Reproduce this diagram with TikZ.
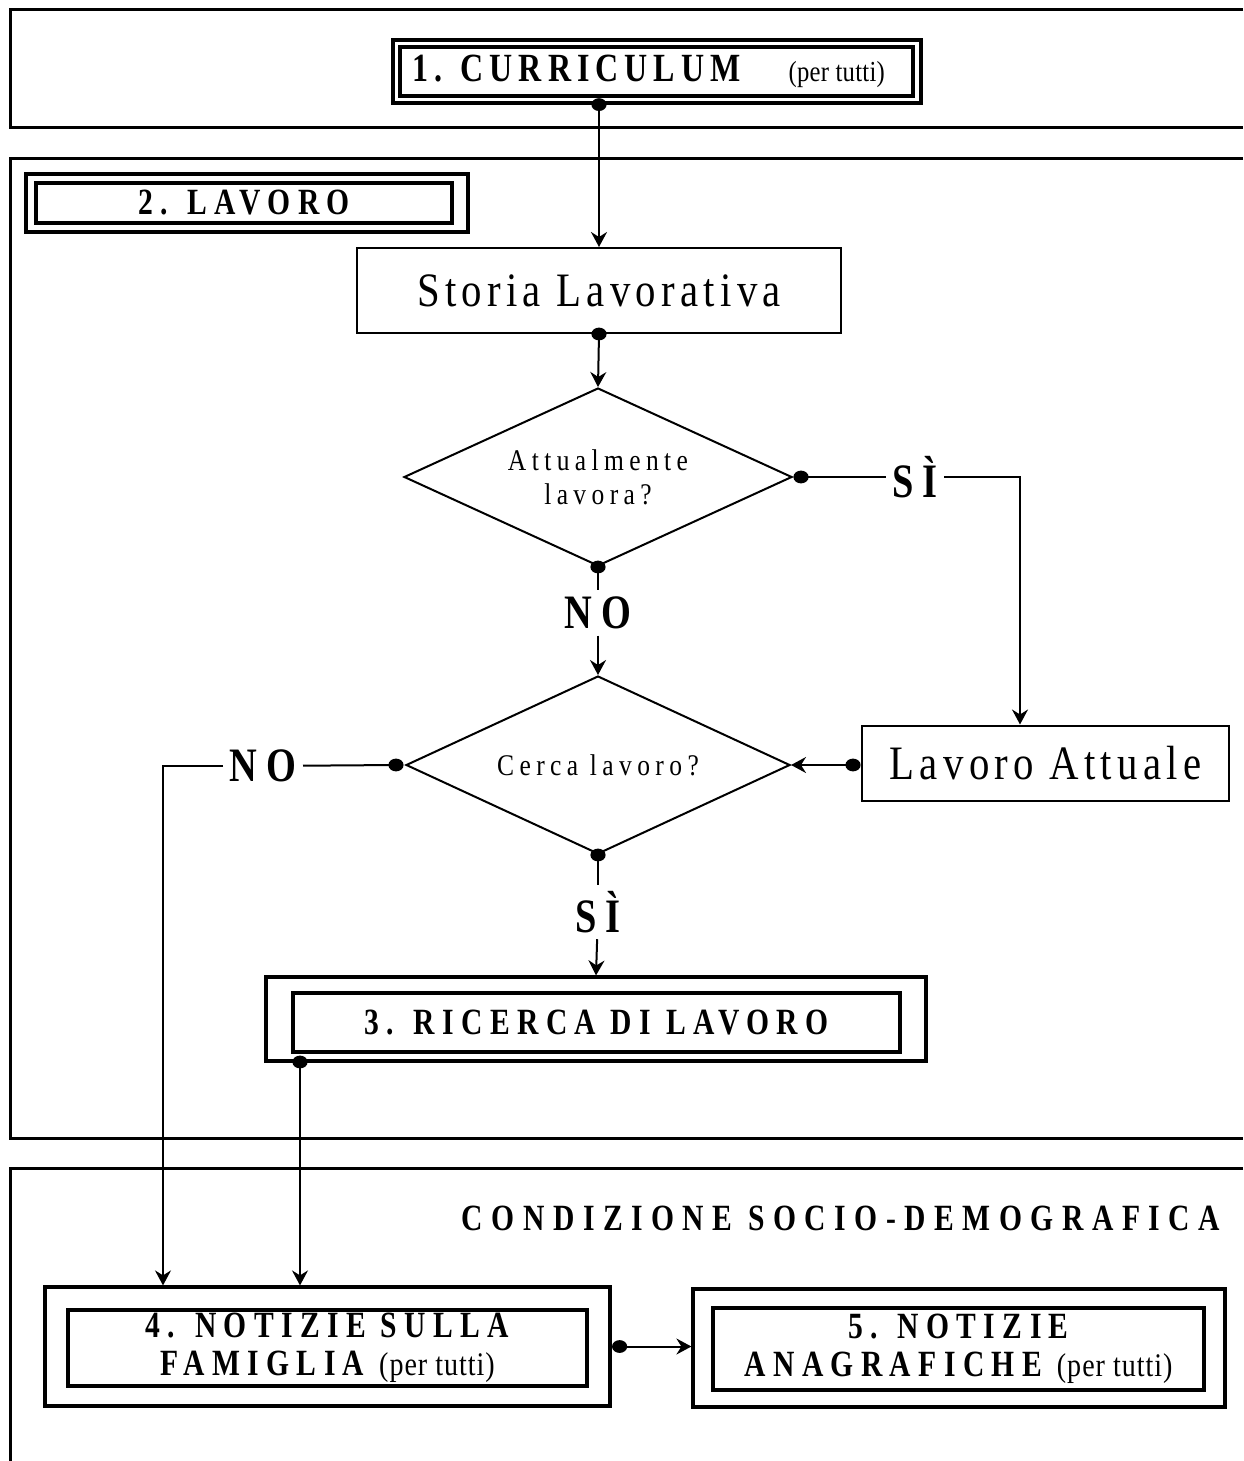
\documentclass[tikz,border=0pt]{standalone}
\usepackage{fontspec}
\newfontfamily\tf[FakeStretch=0.85]{Liberation Serif}
\newfontfamily\tfb[FakeStretch=0.8]{Liberation Serif}
\usetikzlibrary{arrows.meta,shapes.geometric}
\newcommand\hdf{\tfb\bfseries\fontsize{18.5}{19}\selectfont\addfontfeature{LetterSpace=20}}
\newcommand\curf{\tfb\bfseries\fontsize{20}{22}\selectfont\addfontfeature{LetterSpace=15}}
\newcommand\ptsmall{\tf\mdseries\fontsize{14.5}{15}\selectfont\addfontfeature{LetterSpace=1}}
\newcommand\ptbig{\tf\mdseries\fontsize{16.5}{17}\selectfont\addfontfeature{LetterSpace=3}}
\newcommand\bigf{\tf\fontsize{24}{28}\selectfont\addfontfeature{LetterSpace=11}}
\newcommand\diaf{\tf\fontsize{15}{17}\selectfont\addfontfeature{LetterSpace=18}}
\newcommand\lblf{\tfb\bfseries\fontsize{24}{26}\selectfont\addfontfeature{LetterSpace=20}}
\newcommand\dotat[1]{\fill (#1) ellipse [x radius=3.8pt, y radius=3.2pt];}
\tikzset{
  frameline/.style={line width=1.5pt},
  dbo/.style={draw, line width=1.6pt, inner sep=0pt},
  dbi/.style={draw, line width=1.6pt, inner sep=0pt, align=center},
  plainbox/.style={draw, line width=1pt, inner sep=0pt, font=\bigf},
  dia/.style={draw, diamond, shape aspect=2.18, line width=1pt, inner sep=0pt, align=center, font=\diaf},
  lbl/.style={inner sep=3pt, font=\lblf},
  conn/.style={line width=1pt},
  arr/.style={conn, -{Stealth[length=7.5pt,width=8pt,inset=2.5pt]}}
}
\begin{document}
\begin{tikzpicture}[x=0.5pt,y=-0.5pt]
\useasboundingbox (0,0) rectangle (1243,1461);
% section frames
\draw[frameline] (1243,10) -| (10,128) -- (1243,128);
\draw[frameline] (1243,158) -| (10,1138) -- (1243,1138);
\draw[frameline] (1243,1168) -| (10,1461);

% 1. Curriculum
\node[dbo, minimum width=264pt, minimum height=31.5pt] (cur) at (657,71.5) {};
\node[dbi, minimum width=256.5pt, minimum height=24.5pt, font=\curf] (curi) at (656.5,71.5) {1. CURRICULUM\hspace{24pt}{\ptsmall(per tutti)}\hspace{8pt}};

% 2. Lavoro
\node[dbo, minimum width=221pt, minimum height=29pt] (lav) at (247,203) {};
\node[dbi, minimum width=208pt, minimum height=20pt, font=\hdf] (lavi) at (244,203) {2. LAVORO};

% Storia lavorativa
\node[plainbox, minimum width=242pt, minimum height=42.5pt] (storia) at (599,290.5) {Storia Lavorativa};

% diamonds
\node[dia, minimum width=194pt, minimum height=89pt] (dia1) at (598,477) {Attualmente\\lavora?};
\node[dia, minimum width=192pt, minimum height=89pt] (dia2) at (598,765) {Cerca lavoro?};

% Lavoro attuale
\node[plainbox, minimum width=183.5pt, minimum height=37.5pt] (lavatt) at (1045.5,763) {Lavoro Attuale};

% 3. Ricerca di lavoro
\node[dbo, minimum width=330pt, minimum height=42pt] (box3) at (596,1019) {};
\node[dbi, minimum width=303.5pt, minimum height=29.5pt, font=\hdf] (box3i) at (596.5,1022.5) {3. RICERCA DI LAVORO};

% section title
\node[font=\hdf\addfontfeature{LetterSpace=23}, inner sep=0pt] (cond) at (841,1218) {CONDIZIONE SOCIO-DEMOGRAFICA};

% 4. Notizie sulla famiglia
\node[dbo, minimum width=282.5pt, minimum height=59.5pt] (box4) at (327.5,1346.5) {};
\node[dbi, minimum width=259.5pt, minimum height=38pt, font=\hdf] (box4i) at (327.5,1348) {4. NOTIZIE SULLA\\FAMIGLIA {\ptbig(per tutti)}};

% 5. Notizie anagrafiche
\node[dbo, minimum width=266pt, minimum height=59pt] (box5) at (959,1348) {};
\node[dbi, minimum width=245.5pt, minimum height=41pt, font=\hdf] (box5i) at (958.5,1349) {5. NOTIZIE\\ANAGRAFICHE {\ptbig(per tutti)}};

% labels
\node[lbl] (yes1) at (915,477) {SÌ};
\node[lbl] (no1) at (598,613) {NO};
\node[lbl] (no2) at (263,766) {NO};
\node[lbl] (yes2) at (598,912) {SÌ};

% helper coordinates
\coordinate (d0) at (cur.south -| storia.north);
\coordinate (d1r) at ([xshift=4pt]dia1.east);
\coordinate (d2l) at ([xshift=-4.5pt]dia2.west);
\coordinate (dla) at ([xshift=-4pt]lavatt.west |- dia2.east);
\coordinate (c1) at (1020,477);
\coordinate (cl) at (163,766);
\coordinate (d3) at (300,1062);
\coordinate (d4) at ([xshift=4pt]box4.east);

% connectors
\draw[arr] (d0) -- (storia.north);
\draw[arr] (storia.south) -- (dia1.north);
\draw[conn] (d1r) -- (yes1);
\draw[arr] (yes1) -- (c1) -- (c1 |- lavatt.north);
\draw[conn] (dia1.south) -- (no1);
\draw[arr] (no1) -- (dia2.north);
\draw[arr] (dla) -- (dia2.east);
\draw[conn] (d2l) -- (no2);
\draw[arr] (no2) -- (cl) -- (cl |- box4.north);
\draw[conn] (dia2.south) -- (yes2);
\draw[arr] (yes2) -- (box3.north);
\draw[arr] (d3) -- (d3 |- box4.north);
\draw[arr] (d4) -- (d4 -| box5.west);

% dots
\dotat{d0}
\dotat{storia.south}
\dotat{d1r}
\dotat{dia1.south}
\dotat{d2l}
\dotat{dia2.south}
\dotat{dla}
\dotat{d3}
\dotat{d4}
\end{tikzpicture}
\end{document}
